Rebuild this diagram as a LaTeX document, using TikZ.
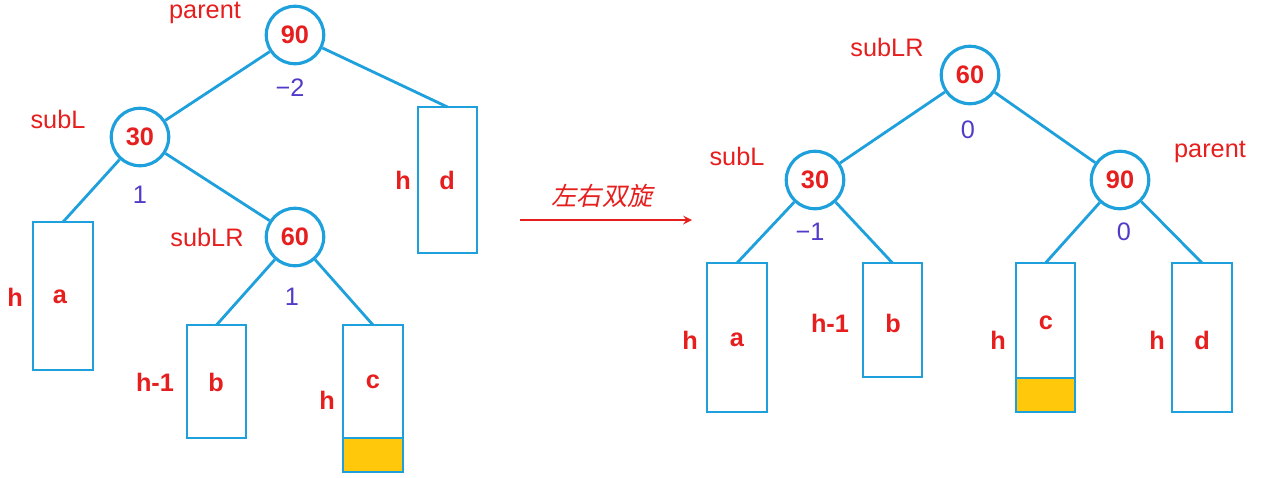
\documentclass[tikz,border=0pt]{standalone}
\usepackage{fontspec}
\setmainfont{Liberation Sans}
\newfontfamily\cjk{Noto Sans CJK SC}
\definecolor{lred}{RGB}{230,30,30}
\definecolor{lblue}{RGB}{30,160,220}
\definecolor{lnum}{RGB}{80,60,200}
\definecolor{lorange}{RGB}{255,200,10}
\begin{document}
\begin{tikzpicture}[x=0.02cm,y=-0.02cm,
  circ/.style={circle,draw=lblue,line width=1.8pt,fill=white,minimum size=1.15cm,inner sep=0pt,text=lred,font=\bfseries\Large},
  edge/.style={draw=lblue,line width=1.6pt},
  lab/.style={text=lred,font=\bfseries\Large},
  tag/.style={text=lred,font=\Large},
  num/.style={text=lnum,font=\Large}]
\useasboundingbox (0,0) rectangle (1268,477);
% left tree
\node[draw=lblue,line width=1.6pt,minimum width=1.18cm,minimum height=2.92cm,inner sep=0pt] (d) at (447.5,180) {};
\node[draw=lblue,line width=1.6pt,minimum width=1.2cm,minimum height=2.96cm,inner sep=0pt] (a) at (63,296) {};
\node[draw=lblue,line width=1.6pt,minimum width=1.18cm,minimum height=2.26cm,inner sep=0pt] (b) at (216.5,381.5) {};
\fill[lorange] (343,438) rectangle (403,472);
\node[draw=lblue,line width=1.6pt,minimum width=1.2cm,minimum height=2.94cm,inner sep=0pt] (c) at (373,398.5) {};
\draw[edge] (343,438) -- (403,438);
\coordinate (dt) at (447.5,107);
\coordinate (at) at (63,222);
\coordinate (bt) at (216.5,325);
\coordinate (ct) at (373,325);
\node[circ] (n90) at (295,35) {90};
\node[circ] (n30) at (140,137) {30};
\node[circ] (n60) at (295,237) {60};
\draw[edge] (n90) -- (n30);
\draw[edge] (n90) -- (dt);
\draw[edge] (n30) -- (at);
\draw[edge] (n30) -- (n60);
\draw[edge] (n60) -- (bt);
\draw[edge] (n60) -- (ct);
\node[tag] (t1) at (205,13) {parent};
\node[num] (m1) at (290,88) {−2};
\node[tag] (t2) at (58,119) {subL};
\node[num] (m2) at (140,195) {1};
\node[tag] (t3) at (207,237) {subLR};
\node[num] (m3) at (292,297) {1};
\node[lab] (l1) at (403,180) {h};
\node[lab] (l2) at (447,180) {d};
\node[lab] (l3) at (15,297) {h};
\node[lab] (l4) at (60,297) {a};
\node[lab] (l5) at (155,382) {h-1};
\node[lab] (l6) at (216,382) {b};
\node[lab] (l7) at (327,400) {h};
\node[lab] (l8) at (373,382) {c};
% arrow
\coordinate (p1) at (520,220);
\coordinate (p2) at (692,220);
\draw[lred,line width=1.2pt,-stealth] (p1) -- (p2);
\node[text=lred,font=\cjk\Large,xslant=0.2] (arr) at (604,196) {左右双旋};
% right tree
\node[draw=lblue,line width=1.6pt,minimum width=1.2cm,minimum height=2.98cm,inner sep=0pt] (a2) at (737,337.5) {};
\node[draw=lblue,line width=1.6pt,minimum width=1.18cm,minimum height=2.28cm,inner sep=0pt] (b2) at (892.5,320) {};
\fill[lorange] (1016,378) rectangle (1075,412);
\node[draw=lblue,line width=1.6pt,minimum width=1.18cm,minimum height=2.98cm,inner sep=0pt] (c2) at (1045.5,337.5) {};
\draw[edge] (1016,378) -- (1075,378);
\node[draw=lblue,line width=1.6pt,minimum width=1.2cm,minimum height=2.98cm,inner sep=0pt] (d2) at (1202,337.5) {};
\coordinate (a2t) at (737,263);
\coordinate (b2t) at (892.5,263);
\coordinate (c2t) at (1045.5,263);
\coordinate (d2t) at (1202,263);
\node[circ] (r60) at (970,75) {60};
\node[circ] (r30) at (815,180) {30};
\node[circ] (r90) at (1120,180) {90};
\draw[edge] (r60) -- (r30);
\draw[edge] (r60) -- (r90);
\draw[edge] (r30) -- (a2t);
\draw[edge] (r30) -- (b2t);
\draw[edge] (r90) -- (c2t);
\draw[edge] (r90) -- (d2t);
\node[tag] (u1) at (887,47) {subLR};
\node[num] (v1) at (968,130) {0};
\node[tag] (u2) at (737,156) {subL};
\node[tag] (u3) at (1210,152) {parent};
\node[num] (v2) at (810,232) {−1};
\node[num] (v3) at (1124,232) {0};
\node[lab] (k1) at (690,340) {h};
\node[lab] (k2) at (737,340) {a};
\node[lab] (k3) at (830,323) {h-1};
\node[lab] (k4) at (893,323) {b};
\node[lab] (k5) at (998,340) {h};
\node[lab] (k6) at (1046,323) {c};
\node[lab] (k7) at (1157,340) {h};
\node[lab] (k8) at (1202,340) {d};
\end{tikzpicture}
\end{document}
